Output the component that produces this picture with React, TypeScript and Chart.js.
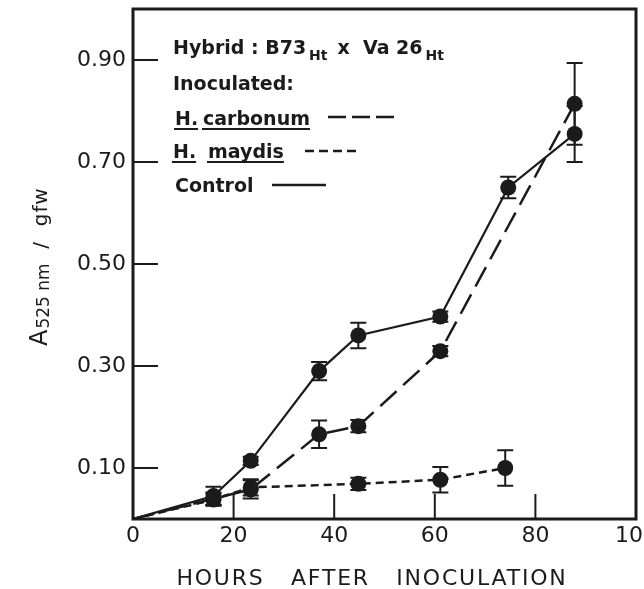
import React, { useEffect, useRef } from 'react';
import { Chart, registerables } from 'chart.js';

Chart.register(...registerables);

const controlHours = [0, 16, 23.4, 37, 44.8, 61.1, 74.6, 87.8];
const controlValues = [0, 0.045, 0.114, 0.29, 0.36, 0.397, 0.65, 0.755];
const controlErrors = [0, 0.018, 0.008, 0.018, 0.025, 0.01, 0.021, 0.055];

const carbonumHours = [0, 16, 23.4, 37, 44.8, 61.1, 87.8];
const carbonumValues = [0, 0.04, 0.058, 0.166, 0.182, 0.329, 0.814];
const carbonumErrors = [0, 0.012, 0.018, 0.027, 0.012, 0.01, 0.08];

const maydisHours = [0, 16, 23.4, 44.8, 61.1, 74];
const maydisValues = [0, 0.038, 0.062, 0.069, 0.077, 0.1];
const maydisErrors = [0, 0.012, 0.016, 0.012, 0.025, 0.035];

const xTicks = [0, 20, 40, 60, 80, 100];
const yTicks = [0.1, 0.3, 0.5, 0.7, 0.9];
const innerXTicks = [20, 40, 60, 80];

const xTitle = 'HOURS   AFTER   INOCULATION';
const INK = '#1b1b1b';

const toPoints = (hours: number[], vals: number[]) => hours.map((h, i) => ({ x: h, y: vals[i] }));
const radii = (hours: number[]) => hours.map((h) => (h === 0 ? 0 : 8));

const errorBars = {
  id: 'errorBars',
  afterDatasetsDraw(chart: any) {
    const ctx = chart.ctx;
    const ys = chart.scales.y;
    chart.data.datasets.forEach((ds: any, di: number) => {
      const meta = chart.getDatasetMeta(di);
      const errs: number[] = ds.errors || [];
      ctx.save();
      ctx.strokeStyle = INK;
      ctx.lineWidth = 2;
      ctx.setLineDash([]);
      meta.data.forEach((pt: any, i: number) => {
        const e = errs[i];
        if (!e) return;
        const v = ds.data[i].y;
        const x = pt.x;
        const t = ys.getPixelForValue(v + e);
        const b = ys.getPixelForValue(v - e);
        ctx.beginPath();
        ctx.moveTo(x, t);
        ctx.lineTo(x, b);
        ctx.moveTo(x - 8, t);
        ctx.lineTo(x + 8, t);
        ctx.moveTo(x - 8, b);
        ctx.lineTo(x + 8, b);
        ctx.stroke();
      });
      ctx.restore();
    });
  },
};

const frame = {
  id: 'frame',
  afterDraw(chart: any) {
    const { ctx, chartArea: a } = chart;
    const xs = chart.scales.x;
    const ys = chart.scales.y;
    ctx.save();
    ctx.strokeStyle = INK;
    ctx.setLineDash([]);
    ctx.lineWidth = 3;
    ctx.strokeRect(a.left, a.top, a.right - a.left, a.bottom - a.top);
    ctx.lineWidth = 2;
    ctx.beginPath();
    yTicks.forEach((v) => {
      const y = ys.getPixelForValue(v);
      ctx.moveTo(a.left, y);
      ctx.lineTo(a.left + 25, y);
    });
    innerXTicks.forEach((v) => {
      const x = xs.getPixelForValue(v);
      ctx.moveTo(x, a.bottom);
      ctx.lineTo(x, a.bottom - 25);
    });
    ctx.stroke();
    ctx.restore();
  },
};

const texts = {
  id: 'texts',
  afterDraw(chart: any) {
    const { ctx, chartArea: a } = chart;
    ctx.save();
    ctx.fillStyle = INK;
    ctx.strokeStyle = INK;
    ctx.textBaseline = 'alphabetic';
    ctx.textAlign = 'left';

    // x axis title
    ctx.font = '22px "DejaVu Sans"';
    (ctx as any).letterSpacing = '1.8px';
    ctx.textAlign = 'center';
    ctx.fillText(xTitle, a.left + 239, a.bottom + 66);
    (ctx as any).letterSpacing = '0px';
    ctx.textAlign = 'left';

    // y axis title (rotated)
    ctx.save();
    ctx.translate(47, 346);
    ctx.rotate(-Math.PI / 2);
    let px = 0;
    ctx.font = '24px "DejaVu Sans"';
    ctx.fillText('A', px, 0);
    px += ctx.measureText('A').width + 1;
    ctx.font = '17px "DejaVu Sans"';
    ctx.fillText('525 nm', px, 2);
    px += ctx.measureText('525 nm').width;
    ctx.font = '20px "DejaVu Sans"';
    (ctx as any).letterSpacing = '1px';
    ctx.fillText('  /  gfw', px, 0);
    (ctx as any).letterSpacing = '0px';
    ctx.restore();

    const L = a.left;
    const T = a.top;
    const big = 'bold 19px "DejaVu Sans"';
    const small = 'bold 14px "DejaVu Sans"';

    // Row 1: Hybrid: B73Ht x Va26Ht
    let x = L + 40;
    let base = T + 45;
    ctx.font = big;
    ctx.fillText('Hybrid : B73', x, base);
    x += ctx.measureText('Hybrid : B73').width + 3;
    ctx.font = small;
    ctx.fillText('Ht', x, base + 6);
    x += ctx.measureText('Ht').width + 10;
    ctx.font = big;
    ctx.fillText('x  Va 26', x, base);
    x += ctx.measureText('x  Va 26').width + 3;
    ctx.font = small;
    ctx.fillText('Ht', x, base + 6);

    // Row 2
    ctx.font = big;
    ctx.fillText('Inoculated:', L + 40, T + 81);

    const underline = (x0: number, x1: number, y: number) => {
      ctx.save();
      ctx.lineWidth = 2;
      ctx.setLineDash([]);
      ctx.beginPath();
      ctx.moveTo(x0, y);
      ctx.lineTo(x1, y);
      ctx.stroke();
      ctx.restore();
    };
    const sample = (x0: number, x1: number, y: number, dash: number[]) => {
      ctx.save();
      ctx.lineWidth = 2.5;
      ctx.setLineDash(dash);
      ctx.beginPath();
      ctx.moveTo(x0, y);
      ctx.lineTo(x1, y);
      ctx.stroke();
      ctx.restore();
    };

    // Row 3: H. carbonum
    base = T + 116;
    ctx.font = big;
    ctx.fillText('H.', L + 42, base);
    let w = ctx.measureText('H.').width;
    underline(L + 41, L + 42 + w, base + 4);
    ctx.fillText('carbonum', L + 70, base);
    w = ctx.measureText('carbonum').width;
    underline(L + 69, L + 70 + w, base + 4);
    sample(L + 195, L + 262, base - 8, [18, 6]);

    // Row 4: H. maydis
    base = T + 149;
    ctx.fillText('H.', L + 40, base);
    w = ctx.measureText('H.').width;
    underline(L + 39, L + 40 + w, base + 4);
    ctx.fillText('maydis', L + 75, base);
    w = ctx.measureText('maydis').width;
    underline(L + 74, L + 75 + w, base + 4);
    sample(L + 172, L + 226, base - 7, [9, 5]);

    // Row 5: Control
    base = T + 183;
    ctx.fillText('Control', L + 42, base);
    sample(L + 139, L + 193, base - 7, []);

    ctx.restore();
  },
};

export default function App() {
  const ref = useRef<HTMLCanvasElement | null>(null);

  useEffect(() => {
    if (!ref.current) return;
    Chart.defaults.font.family = '"DejaVu Sans"';
    Chart.defaults.color = INK;
    const common = {
      borderColor: INK,
      backgroundColor: INK,
      pointBackgroundColor: INK,
      pointBorderColor: INK,
      pointBorderWidth: 0,
      fill: false,
      tension: 0,
      borderWidth: 2.2,
    };
    const chart = new Chart(ref.current, {
      type: 'line',
      data: {
        datasets: [
          {
            ...common,
            label: 'Control',
            data: toPoints(controlHours, controlValues),
            pointRadius: radii(controlHours),
            errors: controlErrors,
          } as any,
          {
            ...common,
            label: 'H. carbonum',
            data: toPoints(carbonumHours, carbonumValues),
            pointRadius: radii(carbonumHours),
            borderDash: [22, 9],
            borderWidth: 2.5,
            errors: carbonumErrors,
          } as any,
          {
            ...common,
            label: 'H. maydis',
            data: toPoints(maydisHours, maydisValues),
            pointRadius: radii(maydisHours),
            borderDash: [8, 5],
            borderWidth: 2.5,
            errors: maydisErrors,
          } as any,
        ],
      },
      options: {
        animation: false,
        responsive: true,
        maintainAspectRatio: false,
        layout: { padding: { top: 9, right: 7, left: 0, bottom: 0 } },
        plugins: { legend: { display: false }, tooltip: { enabled: false } },
        scales: {
          x: {
            type: 'linear',
            min: 0,
            max: 100,
            grid: { display: false, drawTicks: false },
            border: { display: false },
            afterBuildTicks: (s: any) => {
              s.ticks = xTicks.map((v) => ({ value: v }));
            },
            afterFit: (s: any) => {
              s.height = 70;
              s.paddingLeft = 0;
              s.paddingRight = 0;
            },
            ticks: {
              padding: 4,
              maxRotation: 0,
              autoSkip: false,
              font: { size: 22 },
              color: INK,
              callback: (v: any) => String(v),
            },
          },
          y: {
            type: 'linear',
            min: 0,
            max: 1.0,
            grid: { display: false, drawTicks: false },
            border: { display: false },
            afterBuildTicks: (s: any) => {
              s.ticks = yTicks.map((v) => ({ value: v }));
            },
            afterFit: (s: any) => {
              s.width = 133;
              s.paddingTop = 0;
              s.paddingBottom = 0;
            },
            ticks: {
              padding: 7,
              autoSkip: false,
              font: { size: 22 },
              color: INK,
              callback: (v: any) => Number(v).toFixed(2),
            },
          },
        },
      } as any,
      plugins: [errorBars, frame, texts],
    });
    return () => chart.destroy();
  }, []);

  return (
    <div style={{ position: 'absolute', left: 0, top: 0, width: 644, height: 589, background: '#ffffff' }}>
      <canvas ref={ref} />
    </div>
  );
}
